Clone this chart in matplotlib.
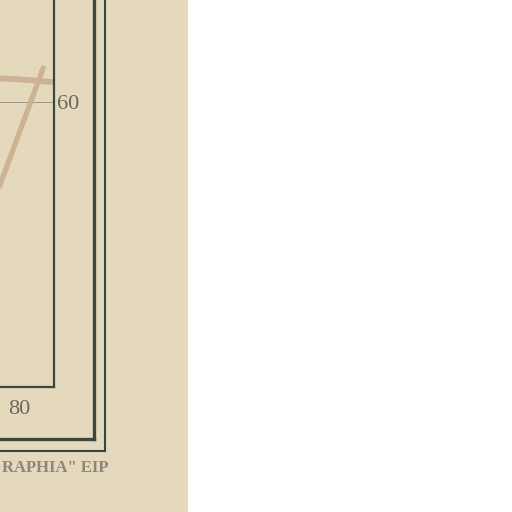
import matplotlib.pyplot as plt
from matplotlib.patches import Rectangle
from matplotlib.lines import Line2D

W = H = 512
paper = '#e4d9bc'
ink = '#3b4640'

# data
upper_x = [72.0, 79.0, 88.5]
upper_y = [61.68, 61.61, 61.40]
diag_x = [72.75, 75.25, 86.25]
diag_y = [52.21, 54.18, 62.53]
ytick_vals = [60]
ytick_labels = ['60']
xtick_vals = [80]
xtick_labels = ['80']


def fx(px):
    return px / W


def fy(py):
    return 1 - py / H


fig = plt.figure(figsize=(5.12, 5.12), dpi=100)
fig.patch.set_facecolor('white')
fig.add_artist(Rectangle((0, 0), fx(188), 1, transform=fig.transFigure,
                         facecolor=paper, edgecolor='none', zorder=0))

ax = fig.add_axes([fx(-301), fy(387), fx(355), 387 / H])
ax.set_facecolor('none')
ax.set_xlim(0, 88.75)
ax.set_ylim(40, 60 + 102 / 14.25)
for s in ['top', 'left']:
    ax.spines[s].set_visible(False)
for s in ['right', 'bottom']:
    ax.spines[s].set_color(ink)
    ax.spines[s].set_linewidth(1.6)

ax.axhline(60, color='#9c9a8c', lw=0.7, zorder=1)
ax.plot(upper_x, upper_y, color='#cdb293', lw=4.2, solid_capstyle='butt', zorder=2)
ax.plot(diag_x, diag_y, color='#cdb293', lw=3.8, solid_capstyle='butt', zorder=2)

ax.yaxis.tick_right()
ax.set_yticks(ytick_vals, ytick_labels)
ax.set_xticks(xtick_vals, xtick_labels)
ax.tick_params(length=0, labelsize=16, labelcolor='#6a685e')
ax.tick_params(axis='x', pad=9)
ax.tick_params(axis='y', pad=2)
for lab in ax.get_xticklabels() + ax.get_yticklabels():
    lab.set_family('Liberation Serif')
for lab in ax.get_yticklabels():
    lab.set_va('center_baseline')

# outer double frame of the sheet
fig.add_artist(Line2D([fx(94), fx(94)], [1, fy(439)], color=ink, lw=2.4))
fig.add_artist(Line2D([0, fx(94)], [fy(439), fy(439)], color=ink, lw=2.4))
fig.add_artist(Line2D([fx(105), fx(105)], [1, fy(451)], color=ink, lw=1.5))
fig.add_artist(Line2D([0, fx(105)], [fy(451), fy(451)], color=ink, lw=1.5))

fig.text(fx(108), fy(468), 'RAPHIA" EIP', ha='right', va='center',
         fontsize=12, weight='bold', color='#8c877a', family='Liberation Serif')

fig.savefig('out.png', dpi=100, facecolor='white')
